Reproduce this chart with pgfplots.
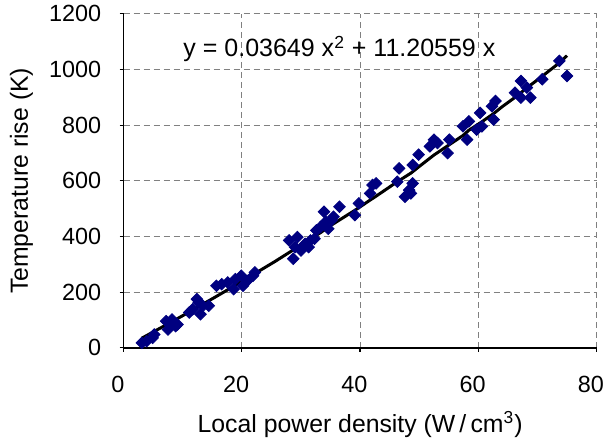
\documentclass[border=0pt]{standalone}
\usepackage{pgfplots}
\pgfplotsset{compat=1.18}
\usepackage{fontspec}
\setmainfont{Liberation Sans}
\definecolor{ptblue}{RGB}{0,0,128}
\definecolor{gridgray}{RGB}{128,128,128}

\begin{document}
\fontsize{12.3}{14}\selectfont
\begin{tikzpicture}
\begin{axis}[
    scale only axis,
    width=236.5pt, height=167pt,
    xmin=0, xmax=80, ymin=0, ymax=1200,
    xtick={0,20,...,80}, ytick={0,200,...,1200},
    axis x line=bottom, axis y line=left,
    axis line style={black, line width=0.9pt, -},
    grid=major,
    major grid style={gridgray, dash pattern=on 3pt off 2pt, line width=0.5pt},
    tick align=outside,
    major tick length=2pt,
    tick style={black, line width=0.6pt},
    /pgf/number format/assume math mode=true,
    /pgf/number format/1000 sep={},
    tick label style={font=\fontsize{11.7}{13}\selectfont},
    xticklabel style={inner ysep=0pt, inner xsep=1pt, yshift=-12pt, xshift=-2.8pt},
    yticklabel style={inner xsep=0pt, inner ysep=2.8pt, xshift=-9pt},
    xlabel={Local power density (W\,/\,cm\textsuperscript{3})},
    ylabel={Temperature rise (K)},
    label style={font=\fontsize{12.4}{14}\selectfont},
    xlabel style={at={(axis description cs:0.5,0)}, anchor=north, inner xsep=0pt, inner ysep=3pt, yshift=-28.5pt},
    ylabel style={at={(axis description cs:0,0.5)}, anchor=north, inner ysep=5pt, inner xsep=0pt, yshift=62pt},
]
\addplot[only marks, mark=square*, mark size=2.05pt, mark options={rotate=45}, color=ptblue] coordinates {
 (3.1,18) (3.9,24) (4.9,36) (5.2,48) (7.2,96) (7.8,90) (8.2,102) (8.8,78)
 (9.1,84) (7.5,66) (11.1,127) (11.7,139) (12.4,175) (12.7,163) (13.0,121)
 (13.4,151) (14.4,151) (15.7,223) (16.6,229) (17.6,235) (18.6,211) (18.9,247)
 (19.9,259) (20.2,223) (20.9,241) (21.9,259) (22.2,271) (28.0,386) (28.7,320)
 (29.0,362) (29.4,398) (30.0,350) (30.7,374) (31.3,362) (31.6,386) (32.3,392)
 (32.6,422) (33.3,434) (33.9,489) (34.2,453) (34.6,428) (35.2,459) (35.5,471)
 (36.5,507) (39.1,477) (39.8,519) (41.7,555) (42.1,585) (42.7,591) (46.3,597)
 (46.6,645) (47.6,543) (48.3,567) (48.6,555) (48.9,591) (48.9,657) (49.9,694)
 (51.8,724) (52.5,748) (53.1,736) (54.8,700) (55.1,748) (57.4,796) (58.1,748)
 (58.4,814) (59.7,784) (60.3,844) (60.6,796) (62.3,868) (62.6,820) (62.9,887)
 (66.2,917) (67.2,959) (67.2,899) (68.2,935) (68.8,899) (70.8,965) (73.7,1031)
 (75.0,977)
};
\addplot[black, line width=1.5pt] coordinates {
 (3.1,35) (4.9,56) (7.5,86) (9.1,105) (11.7,136) (13.4,157) (15.7,185)
 (18.6,221) (20.9,250) (22.2,267) (25.5,309) (28.7,352) (31.3,387) (33.3,414)
 (35.5,446) (39.1,494) (41.7,531) (42.7,545) (46.3,597) (48.6,628) (49.9,650)
 (52.5,693) (55.1,730) (57.4,763) (58.4,782) (60.3,808) (62.6,842) (64.0,866)
 (66.2,900) (68.2,934) (70.8,976) (73.7,1024) (75.0,1050)
};
\node[font=\fontsize{12.5}{14}\selectfont] at (axis cs:36.5,1074)
  {y = 0.03649 x\textsuperscript{2} + 11.20559 x};
\end{axis}
\end{tikzpicture}
\end{document}
